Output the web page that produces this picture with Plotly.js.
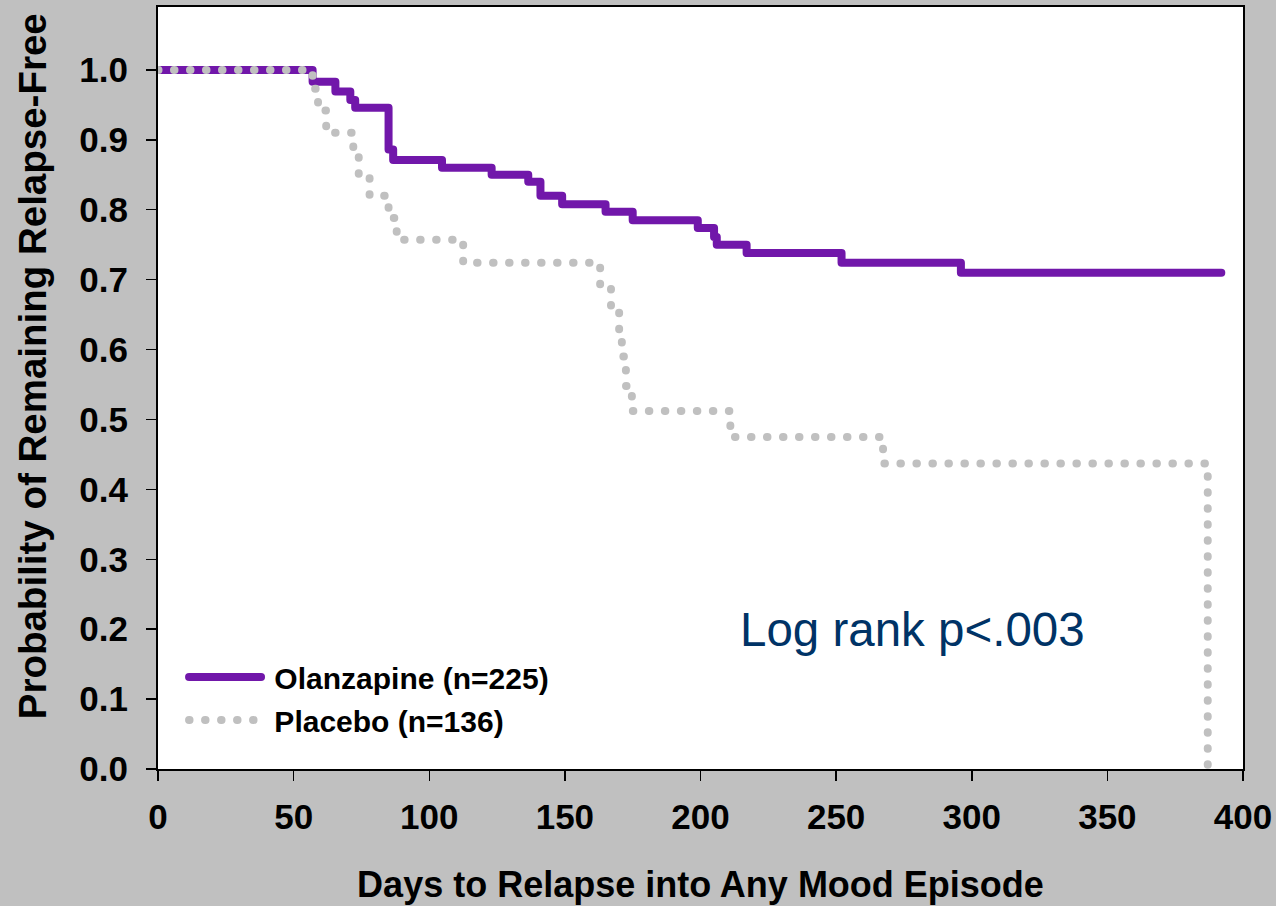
<!DOCTYPE html>
<html>
<head>
<meta charset="utf-8">
<script src="https://cdn.plot.ly/plotly-3.0.1.min.js"></script>
<style>
html,body{margin:0;padding:0;background:#c0c0c0;}
#chart{width:1276px;height:906px;}
.js-line{stroke-linecap:round;stroke-linejoin:round;}
</style>
</head>
<body>
<div id="chart"></div>
<script>
// Olanzapine Kaplan-Meier steps
const olzDays = [0, 57, 65.4, 70.9, 72.7, 85, 86.7, 104.7, 123, 136.5, 141, 149, 165, 175, 199, 205, 206, 217, 252, 296, 392];
const olzSurv = [1.0, 0.983, 0.969, 0.957, 0.946, 0.886, 0.871, 0.860, 0.850, 0.840, 0.820, 0.808, 0.797, 0.785, 0.774, 0.761, 0.750, 0.738, 0.724, 0.710, 0.710];
// Placebo Kaplan-Meier steps
const plcDays = [0, 57, 59, 62, 72, 74, 78, 85, 88, 112.5, 163, 167, 170, 171, 172.5, 174.7, 211, 267.3, 387];
const plcSurv = [1.0, 0.973, 0.942, 0.910, 0.882, 0.851, 0.820, 0.788, 0.757, 0.724, 0.690, 0.655, 0.621, 0.590, 0.548, 0.512, 0.475, 0.437, 0.0];

const seriesNames = ['Olanzapine (n=225)', 'Placebo (n=136)'];
const xTickVals = [0, 50, 100, 150, 200, 250, 300, 350, 400];
const yTickVals = [0.0, 0.1, 0.2, 0.3, 0.4, 0.5, 0.6, 0.7, 0.8, 0.9, 1.0];

const traces = [
  {x: olzDays, y: olzSurv, name: '\u00a0' + seriesNames[0], type: 'scatter', mode: 'lines',
   line: {shape: 'hv', color: '#7117aa', width: 8}, legendgroup: 'a'},
  {x: plcDays, y: plcSurv, name: '\u00a0' + seriesNames[1], type: 'scatter', mode: 'lines',
   line: {shape: 'hv', color: '#c0c0c0', width: 8, dash: '0.5px,15.5px'}, legendgroup: 'b'}
];

const fam = 'Arial, "Liberation Sans", sans-serif';
const boldFont = {family: fam, color: '#000000', size: 35, weight: 'bold'};

const layout = {
  width: 1276, height: 906,
  paper_bgcolor: '#c0c0c0', plot_bgcolor: '#ffffff',
  margin: {l: 157.5, r: 33, t: 7, b: 137},
  showlegend: true,
  legend: {x: 0.024, y: 0.155, xanchor: 'left', yanchor: 'top', bgcolor: 'rgba(0,0,0,0)',
           font: {family: fam, size: 30, color: '#000', weight: 'bold'},
           itemwidth: 72, traceorder: 'grouped', tracegroupgap: 1},
  xaxis: {range: [0, 400], tickvals: xTickVals, ticks: 'outside', ticklen: 10, tickwidth: 1.5, tickcolor: '#000',
          showline: true, linecolor: '#000', linewidth: 2, mirror: true, showgrid: false, zeroline: false,
          tickfont: boldFont, ticklabelstandoff: 6,
          title: {text: 'Days to Relapse into Any Mood Episode', font: {family: fam, color: '#000', size: 36, weight: 'bold'}, standoff: 37}},
  yaxis: {range: [0, 1.09], tickvals: yTickVals, tickformat: '.1f', ticks: 'outside', ticklen: 10, tickwidth: 1.5, tickcolor: '#000',
          showline: true, linecolor: '#000', linewidth: 2, mirror: true, showgrid: false, zeroline: false,
          tickfont: boldFont, ticklabelstandoff: 11},
  annotations: [
    {text: 'Probability of Remaining Relapse-Free', xref: 'paper', yref: 'paper', x: -0.1156, y: 0.528,
     xanchor: 'center', yanchor: 'middle', textangle: -90, showarrow: false,
     font: {family: fam, size: 38.5, color: '#000', weight: 'bold'}},
    {text: 'Log rank p<.003', xref: 'x', yref: 'y', x: 278, y: 0.2, xanchor: 'center', yanchor: 'middle',
     showarrow: false, font: {family: fam, size: 47.5, color: '#003366'}}
  ]
};

Plotly.newPlot('chart', traces, layout, {displayModeBar: false, staticPlot: true});
</script>
</body>
</html>
